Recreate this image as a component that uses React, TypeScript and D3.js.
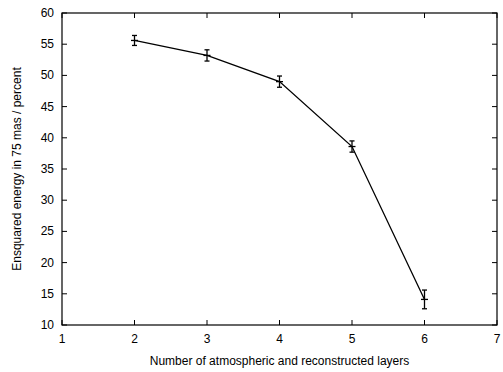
import React from "react";
import * as d3 from "d3";

const layers = [2, 3, 4, 5, 6];
const energy = [55.6, 53.2, 49.0, 38.6, 14.1];
const errors = [0.8, 0.9, 0.9, 0.9, 1.5];
const xTicks = [1, 2, 3, 4, 5, 6, 7];
const yTicks = [10, 15, 20, 25, 30, 35, 40, 45, 50, 55, 60];

const W = 503, H = 372;
const m = { left: 62, right: 6, top: 13, bottom: 47 };

export default function App() {
  const x = d3.scaleLinear().domain([1, 7]).range([m.left, W - m.right]);
  const y = d3.scaleLinear().domain([10, 60]).range([H - m.bottom, m.top]);
  const line = d3.line<number>().x((_, i) => x(layers[i])).y((d) => y(d));
  const font = "'Liberation Sans', Arial, sans-serif";
  const tl = 5;
  const fs = 12;
  return (
    <svg width={W} height={H} style={{ position: "absolute", left: 0, top: 0 }} fontFamily={font}>
      <rect x={0} y={0} width={W} height={H} fill="#fff" />
      {xTicks.map((t) => (
        <g key={"x" + t}>
          <line x1={x(t)} x2={x(t)} y1={y(10)} y2={y(10) - tl} stroke="#000" />
          <line x1={x(t)} x2={x(t)} y1={y(60)} y2={y(60) + tl} stroke="#000" />
          <text x={x(t)} y={y(10) + 18} fontSize={fs} textAnchor="middle">{t}</text>
        </g>
      ))}
      {yTicks.map((t) => (
        <g key={"y" + t}>
          <line x1={x(1)} x2={x(1) + tl} y1={y(t)} y2={y(t)} stroke="#000" />
          <line x1={x(7)} x2={x(7) - tl} y1={y(t)} y2={y(t)} stroke="#000" />
          <text x={x(1) - 8} y={y(t) + 4} fontSize={fs} textAnchor="end">{t}</text>
        </g>
      ))}
      <rect x={x(1)} y={y(60)} width={x(7) - x(1)} height={y(10) - y(60)} fill="none" stroke="#000" strokeWidth={1.2} />
      <path d={line(energy) || ""} fill="none" stroke="#000" strokeWidth={1.3} />
      {energy.map((v, i) => {
        const cx = x(layers[i]);
        return (
          <g key={"p" + i} stroke="#000" strokeWidth={1.3}>
            <line x1={cx} x2={cx} y1={y(v - errors[i])} y2={y(v + errors[i])} />
            <line x1={cx - 2.5} x2={cx + 2.5} y1={y(v - errors[i])} y2={y(v - errors[i])} />
            <line x1={cx - 2.5} x2={cx + 2.5} y1={y(v + errors[i])} y2={y(v + errors[i])} />
            <line x1={cx - 3.5} x2={cx + 3.5} y1={y(v)} y2={y(v)} />
          </g>
        );
      })}
      <text x={(x(1) + x(7)) / 2} y={H - 7} fontSize={fs} textAnchor="middle">
        Number of atmospheric and reconstructed layers
      </text>
      <text transform={`translate(21,${(y(10) + y(60)) / 2}) rotate(-90)`} fontSize={fs} textAnchor="middle">
        Ensquared energy in 75 mas / percent
      </text>
    </svg>
  );
}
